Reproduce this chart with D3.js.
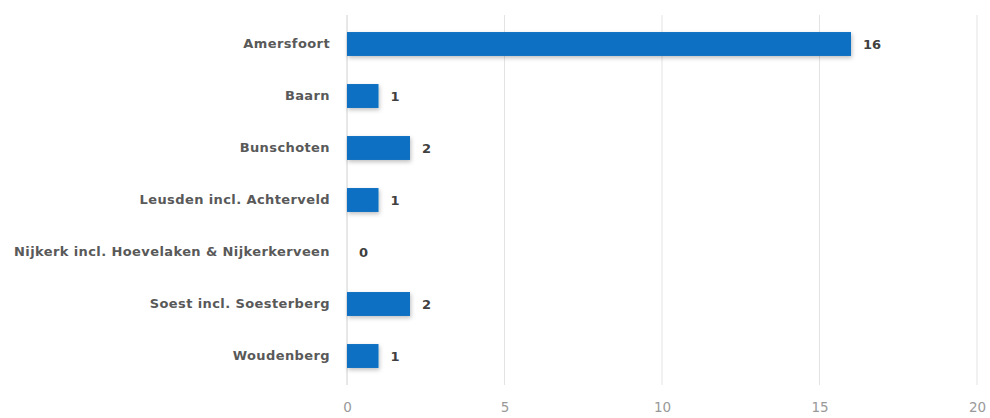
<!DOCTYPE html>
<html>
<head>
<meta charset="utf-8">
<script src="https://cdn.jsdelivr.net/npm/d3@7"></script>
<style>
  body { margin: 0; background: #fff; }
  text { font-family: "DejaVu Sans", sans-serif; }
</style>
</head>
<body>
<div id="main"></div>
<script>
var WIDTH = 990
var HEIGHT = 418

var places = ["Amersfoort", "Baarn", "Bunschoten", "Leusden incl. Achterveld",
    "Nijkerk incl. Hoevelaken & Nijkerkerveen", "Soest incl. Soesterberg", "Woudenberg"]
var counts = [16, 1, 2, 1, 0, 2, 1]
var xTicks = [0, 5, 10, 15, 20]

var margin = { top: 18, right: 13, bottom: 36, left: 347 }

const svg = d3.select('#main').append('svg')
    .attr('width', WIDTH)
    .attr('height', HEIGHT)

// soft shadow under the bars
var f = svg.append('defs').append('filter')
    .attr('id', 'shadow')
    .attr('x', '-20%').attr('y', '-40%')
    .attr('width', '140%').attr('height', '200%')
f.append('feDropShadow')
    .attr('dx', 1).attr('dy', 2)
    .attr('stdDeviation', 2)
    .attr('flood-color', '#000')
    .attr('flood-opacity', 0.25)

var x = d3.scaleLinear()
    .domain([0, 20])
    .range([margin.left, WIDTH - margin.right])

var y = d3.scaleBand()
    .domain(places)
    .range([margin.top, HEIGHT - margin.bottom])
    .paddingInner(0.54)
    .paddingOuter(0.27)

var g = svg.append('g')

// vertical gridlines
g.selectAll('line.grid')
    .data(xTicks)
    .enter()
    .append('line')
    .attr('class', 'grid')
    .attr('x1', d => x(d)).attr('x2', d => x(d))
    .attr('y1', margin.top - 3).attr('y2', HEIGHT - margin.bottom + 3)
    .attr('stroke', d => d === 0 ? '#d0d0d0' : '#e3e3e3')
    .attr('stroke-width', 1)

// x axis labels
var xAxis = d3.axisBottom(x).tickValues(xTicks).tickSize(0).tickPadding(0)
var ax = svg.append('g')
    .attr('transform', 'translate(0,' + (HEIGHT - margin.bottom + 20) + ')')
    .call(xAxis)
ax.select('.domain').remove()
ax.selectAll('text')
    .attr('fill', '#999999')
    .attr('font-size', 13.5)

// category labels
var yAxis = d3.axisLeft(y).tickSize(0).tickPadding(17)
var ay = svg.append('g')
    .attr('transform', 'translate(' + margin.left + ',0)')
    .call(yAxis)
ay.select('.domain').remove()
ay.selectAll('text')
    .attr('fill', '#595959')
    .attr('font-size', 13)
    .attr('letter-spacing', 0.4)
    .attr('font-weight', 'bold')

// bars
g.selectAll('rect.bar')
    .data(places)
    .enter()
    .append('rect')
    .attr('class', 'bar')
    .attr('x', x(0))
    .attr('y', d => y(d))
    .attr('width', (d, i) => x(counts[i]) - x(0))
    .attr('height', y.bandwidth())
    .attr('fill', '#0a6fc2')
    .attr('filter', 'url(#shadow)')

// value labels
g.selectAll('text.val')
    .data(places)
    .enter()
    .append('text')
    .attr('class', 'val')
    .attr('x', (d, i) => x(counts[i]) + 12)
    .attr('y', d => y(d) + y.bandwidth() / 2)
    .attr('dy', '0.35em')
    .attr('fill', '#404040')
    .attr('font-size', 13)
    .attr('font-weight', 'bold')
    .text((d, i) => counts[i])
</script>
</body>
</html>
